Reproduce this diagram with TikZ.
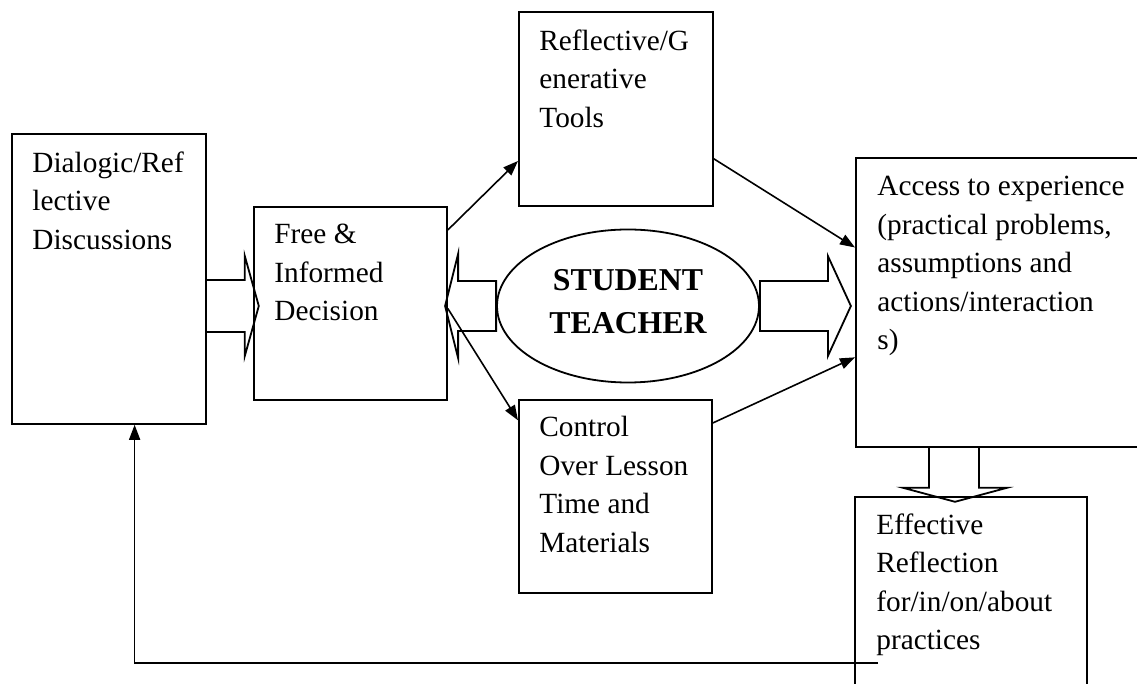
\documentclass[tikz,border=0pt]{standalone}
\usepackage{fontspec}
\setmainfont{Liberation Serif}
\usetikzlibrary{shapes.geometric,arrows.meta}

\tikzset{
  box/.style={draw, rectangle, anchor=north west, inner sep=0pt, line width=0.9pt},
  boxtext/.style={anchor=north west, align=left, inner sep=0pt, font=\fontsize{14.65}{19.25}\selectfont},
  fat/.style={draw, line width=0.9pt, line join=miter},
  arr/.style={line width=0.8pt, -{Triangle[length=7.5pt,width=5.5pt]}}
}

\begin{document}
\begin{tikzpicture}[x=0.5pt, y=-0.5pt]
  \clip (0,0) rectangle (1137,684);

  % Boxes
  \node[box, minimum width=97pt, minimum height=145pt] (dia) at (11,133) {};
  \node[box, minimum width=96.5pt, minimum height=96.5pt] (free) at (253,206) {};
  \node[box, minimum width=97pt, minimum height=97pt] (refl) at (518,11) {};
  \node[box, minimum width=96.5pt, minimum height=96.5pt] (ctl) at (518,399) {};
  \node[box, minimum width=150pt, minimum height=144.5pt] (acc) at (855,157) {};
  \node[box, minimum width=116pt, minimum height=110pt] (eff) at (854,496) {};

  % Box texts
  \node[boxtext] (dia-txt) at ([shift={(21,18)}]dia.north west) {Dialogic/Ref\\lective\\Discussions};
  \node[boxtext] (free-txt) at ([shift={(21,18)}]free.north west) {Free \&\\Informed\\Decision};
  \node[boxtext] (refl-txt) at ([shift={(21,18)}]refl.north west) {Reflective/G\\enerative\\Tools};
  \node[boxtext] (ctl-txt) at ([shift={(21,17)}]ctl.north west) {Control\\Over Lesson\\Time and\\Materials};
  \node[boxtext] (acc-txt) at ([shift={(22,19)}]acc.north west) {Access to experience\\(practical problems,\\assumptions and\\actions/interaction\\s)};
  \node[boxtext] (eff-txt) at ([shift={(22,17)}]eff.north west) {Effective\\Reflection\\for/in/on/about\\practices};

  % Student teacher
  \node[ellipse, draw, line width=0.9pt, minimum width=131pt, minimum height=76.5pt, inner sep=0pt,
        align=center, font=\bfseries\fontsize{15.9}{21.5}\selectfont] (te) at (628,306) {STUDENT\\TEACHER\rule[-5pt]{0pt}{5pt}};

  % Block arrows
  \draw[fat] (dia.east |- te.center) ++(0,-26) -- ++(38,0) -- ++(0,-24) -- ++(14,50) -- ++(-14,50) -- ++(0,-24) -- ++(-38,0);
  \draw[fat] (te.west) ++(0,-25) -- ++(-38,0) -- ++(0,-27) -- ++(-13,52) -- ++(13,52) -- ++(0,-27) -- ++(38,0) -- cycle;
  \draw[fat] (te.east) ++(0,-25) -- ++(68,0) -- ++(0,-25) -- ++(23,50) -- ++(-23,50) -- ++(0,-25) -- ++(-68,0) -- cycle;
  \draw[fat] (acc.south west) ++(74,0) -- ++(0,40) -- ++(-26,0) -- ++(52,14) -- ++(52,-14) -- ++(-28,0) -- ++(0,-40);

  % Arrows
  \draw[arr] (free.37) -- (refl.208);
  \draw[arr] (refl.-27) -- (acc.160);
  \draw[arr] (free.-3) -- (ctl.142);
  \draw[arr] (ctl.37) -- (acc.200);

  % Feedback
  \coordinate (fb) at (878,663);
  \draw[arr] (fb) -| (dia.-80);

\end{tikzpicture}
\end{document}
